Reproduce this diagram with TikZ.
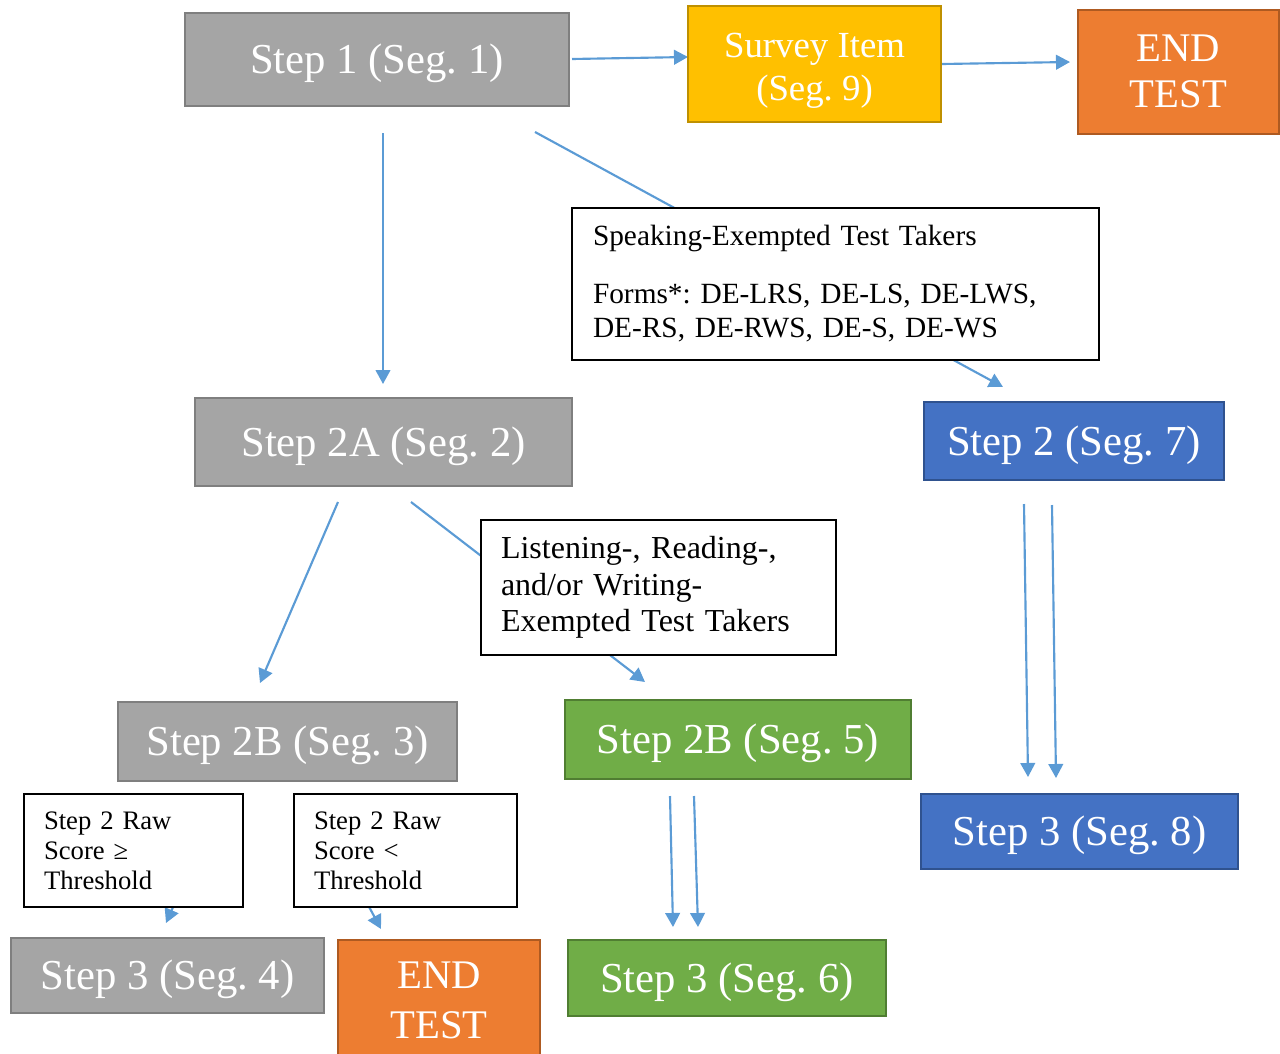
\documentclass[tikz,border=0pt]{standalone}
\usepackage{fontspec}
\setmainfont{Liberation Serif}
\usetikzlibrary{arrows.meta}
\definecolor{arrblue}{HTML}{5B9BD5}
\definecolor{grayfill}{HTML}{A5A5A5}
\definecolor{graydraw}{HTML}{7F7F7F}
\definecolor{yelfill}{HTML}{FFC000}
\definecolor{yeldraw}{HTML}{BF9000}
\definecolor{orfill}{HTML}{ED7D31}
\definecolor{ordraw}{HTML}{AE5A21}
\definecolor{blfill}{HTML}{4472C4}
\definecolor{bldraw}{HTML}{2F528F}
\definecolor{grfill}{HTML}{70AD47}
\definecolor{grdraw}{HTML}{507E32}
\pgfdeclarelayer{bg}
\pgfsetlayers{bg,main}
\tikzset{
  stepbox/.style={draw, line width=1.5pt, inner sep=0pt, text=white, align=center,
    font=\fontsize{32}{38}\selectfont},
  capc/.style={text height=21.2pt, text depth=0pt},
  graybox/.style={stepbox, capc, fill=grayfill, draw=graydraw},
  yelbox/.style={stepbox, fill=yelfill, draw=yeldraw, font=\fontsize{27.6}{32.5}\selectfont},
  orbox/.style={stepbox, fill=orfill, draw=ordraw, font=\fontsize{30.5}{34.5}\selectfont},
  blbox/.style={stepbox, capc, fill=blfill, draw=bldraw},
  grbox/.style={stepbox, capc, fill=grfill, draw=grdraw},
  notebox/.style={draw=black, line width=1.1pt, fill=white, align=left, inner ysep=0pt},
  arr/.style={draw=arrblue, line width=1.6pt, -{Triangle[width=11pt,length=10.5pt]}}
}
\begin{document}
\frenchspacing
\begin{tikzpicture}[x=0.75pt,y=-0.75pt]
\useasboundingbox (0,0) rectangle (1280,1053);
\clip (0,0) rectangle (1280,1053);
% boxes
\node[graybox, minimum width=288pt, minimum height=69.75pt] (s1) at (377,59.5) {Step 1 (Seg. 1)};
\node[yelbox, minimum width=189.75pt, minimum height=87pt] (survey) at (814.5,64) {\rule{0pt}{28.5pt}Survey Item\\(Seg. 9)};
\node[orbox, minimum width=150.75pt, minimum height=93pt] (endA) at (1178.5,72) {END\\TEST\rule[-1.5pt]{0pt}{0pt}};
\node[notebox, text width=363.75pt, inner xsep=15.75pt, minimum height=114pt,
  font=\fontsize{22}{25.5}\selectfont] (spk) at (835.5,284)
  {Speaking-Exempted Test Takers\\[18pt]Forms*: DE-LRS, DE-LS, DE-LWS,\\DE-RS, DE-RWS, DE-S, DE-WS};
\node[graybox, minimum width=282.75pt, minimum height=66pt] (s2a) at (383.5,442) {Step 2A (Seg. 2)};
\node[blbox, minimum width=225pt, minimum height=58.5pt] (s7) at (1074,441) {Step 2 (Seg. 7)};
\node[notebox, text width=236.25pt, inner xsep=15pt, minimum height=101.25pt,
  font=\fontsize{24}{27.4}\selectfont] (lst) at (658.5,587.5)
  {Listening-, Reading-,\\and/or Writing-\\Exempted Test Takers};
\node[graybox, minimum width=254.25pt, minimum height=59.25pt] (s3) at (287.5,741.5) {Step 2B (Seg. 3)};
\node[grbox, minimum width=259.5pt, minimum height=59.25pt] (s5) at (738,739.5) {Step 2B (Seg. 5)};
\node[blbox, minimum width=237.75pt, minimum height=56.25pt] (s8) at (1079.5,831.5) {Step 3 (Seg. 8)};
\node[notebox, text width=134.25pt, inner xsep=15pt, minimum height=84.75pt,
  font=\fontsize{20}{22.5}\selectfont] (rawA) at (133.5,850.5)
  {Step 2 Raw\\Score ≥\\Threshold};
\node[notebox, text width=137.25pt, inner xsep=15pt, minimum height=84.75pt,
  font=\fontsize{20}{22.5}\selectfont] (rawB) at (405.5,850.5)
  {Step 2 Raw\\Score <\\Threshold};
\node[graybox, minimum width=234.75pt, minimum height=56.25pt] (s4) at (167.5,975.5) {Step 3 (Seg. 4)};
\node[orbox, minimum width=151.5pt, minimum height=90pt, font=\fontsize{30.5}{37.5}\selectfont] (endB) at (439,1000) {END\\TEST};
\node[grbox, minimum width=238.5pt, minimum height=57pt] (s6) at (727,978) {Step 3 (Seg. 6)};
% connector end points
\coordinate (a1s) at (572,59);   \coordinate (a1e) at (688,57);
\coordinate (a2s) at (942,64);   \coordinate (a2e) at (1070,62);
\coordinate (a3s) at (383,133);  \coordinate (a3e) at (383,384);
\coordinate (a4s) at (535,132);  \coordinate (a4e) at (1003,387);
\coordinate (a5s) at (338,502);  \coordinate (a5e) at (260,683);
\coordinate (a6s) at (411,502);  \coordinate (a6e) at (645,682);
\coordinate (a7s) at (1024,504); \coordinate (a7e) at (1028,777);
\coordinate (a8s) at (1052,505); \coordinate (a8e) at (1056,778);
\coordinate (a9s) at (670,796);  \coordinate (a9e) at (673,927);
\coordinate (a10s) at (694,796); \coordinate (a10e) at (698,927);
\coordinate (a11s) at (185,880); \coordinate (a11e) at (166,923);
\coordinate (a12s) at (360,890); \coordinate (a12e) at (381,929);
\begin{pgfonlayer}{bg}
\draw[arr] (a1s) -- (a1e);
\draw[arr] (a2s) -- (a2e);
\draw[arr] (a3s) -- (a3e);
\draw[arr] (a4s) -- (a4e);
\draw[arr] (a5s) -- (a5e);
\draw[arr] (a6s) -- (a6e);
\draw[arr] (a7s) -- (a7e);
\draw[arr] (a8s) -- (a8e);
\draw[arr] (a9s) -- (a9e);
\draw[arr] (a10s) -- (a10e);
\draw[arr] (a11s) -- (a11e);
\draw[arr] (a12s) -- (a12e);
\end{pgfonlayer}
\end{tikzpicture}
\end{document}
